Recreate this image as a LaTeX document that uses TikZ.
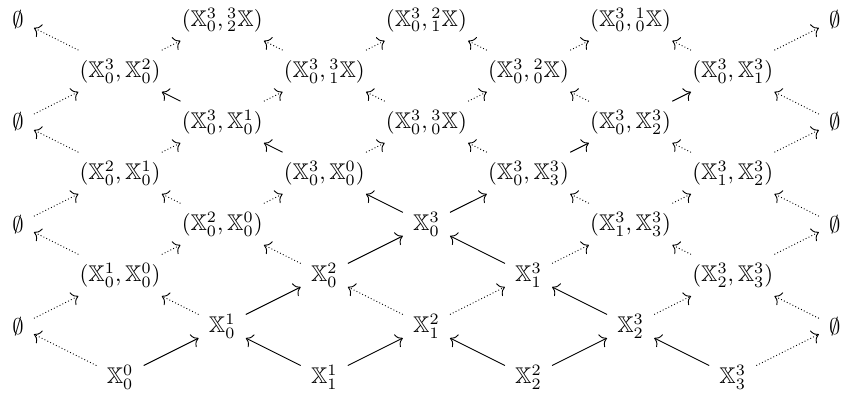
\documentclass[tikz,border=0pt]{standalone}
\usepackage{amssymb}
\usetikzlibrary{arrows.meta}
\newcommand{\X}[2]{\mathbb{X}^{#1}_{#2}}
\newcommand{\pX}[2]{{}^{#1}_{#2}\mathbb{X}}
\tikzset{
  obj/.style={inner sep=3pt, font=\normalsize},
  flow/.style={-{To[length=1mm, width=2.2mm]}, line width=0.4pt, shorten <=1.5pt, shorten >=1.5pt},
  flowd/.style={flow, densely dotted},
}

\begin{document}
\begin{tikzpicture}[x=45pt, y=22.5pt]
  \useasboundingbox (-0.176,0.391) rectangle (8.129,-7.515);

  % left and right ends
  \node[obj] (e0) at (0,0)  {$\emptyset$};
  \node[obj] (e2) at (0,-2) {$\emptyset$};
  \node[obj] (e4) at (0,-4) {$\emptyset$};
  \node[obj] (e6) at (0,-6) {$\emptyset$};
  \node[obj] (f0) at (8,0)  {$\emptyset$};
  \node[obj] (f2) at (8,-2) {$\emptyset$};
  \node[obj] (f4) at (8,-4) {$\emptyset$};
  \node[obj] (f6) at (8,-6) {$\emptyset$};

  % inner grid
  \node[obj] (a1)  at (1,-1) {$(\X30,\X20)$};
  \node[obj] (a3)  at (1,-3) {$(\X20,\X10)$};
  \node[obj] (a5)  at (1,-5) {$(\X10,\X00)$};
  \node[obj] (x00) at (1,-7) {$\X00$};

  \node[obj] (b0)  at (2,0)  {$(\X30,\pX32)$};
  \node[obj] (b2)  at (2,-2) {$(\X30,\X10)$};
  \node[obj] (b4)  at (2,-4) {$(\X20,\X00)$};
  \node[obj] (x01) at (2,-6) {$\X10$};

  \node[obj] (c1)  at (3,-1) {$(\X30,\pX31)$};
  \node[obj] (c3)  at (3,-3) {$(\X30,\X00)$};
  \node[obj] (x02) at (3,-5) {$\X20$};
  \node[obj] (x11) at (3,-7) {$\X11$};

  \node[obj] (d0)  at (4,0)  {$(\X30,\pX21)$};
  \node[obj] (d2)  at (4,-2) {$(\X30,\pX30)$};
  \node[obj] (x03) at (4,-4) {$\X30$};
  \node[obj] (x12) at (4,-6) {$\X21$};

  \node[obj] (g1)  at (5,-1) {$(\X30,\pX20)$};
  \node[obj] (g3)  at (5,-3) {$(\X30,\X33)$};
  \node[obj] (x13) at (5,-5) {$\X31$};
  \node[obj] (x22) at (5,-7) {$\X22$};

  \node[obj] (h0)  at (6,0)  {$(\X30,\pX10)$};
  \node[obj] (h2)  at (6,-2) {$(\X30,\X32)$};
  \node[obj] (h4)  at (6,-4) {$(\X31,\X33)$};
  \node[obj] (x23) at (6,-6) {$\X32$};

  \node[obj] (k1)  at (7,-1) {$(\X30,\X31)$};
  \node[obj] (k3)  at (7,-3) {$(\X31,\X32)$};
  \node[obj] (k5)  at (7,-5) {$(\X32,\X33)$};
  \node[obj] (x33) at (7,-7) {$\X33$};

  % solid arrows
  \draw[flow] (x00) -- (x01);
  \draw[flow] (x11) -- (x01);
  \draw[flow] (x01) -- (x02);
  \draw[flow] (x11) -- (x12);
  \draw[flow] (x02) -- (x03);
  \draw[flow] (x22) -- (x12);
  \draw[flow] (x22) -- (x23);
  \draw[flow] (x23) -- (x13);
  \draw[flow] (x33) -- (x23);
  \draw[flow] (x13) -- (x03);
  \draw[flow] (x03) -- (c3);
  \draw[flow] (x03) -- (g3);
  \draw[flow] (c3) -- (b2);
  \draw[flow] (g3) -- (h2);
  \draw[flow] (b2) -- (a1);
  \draw[flow] (h2) -- (k1);

  % dotted arrows
  \draw[flowd] (a1) -- (e0);
  \draw[flowd] (e2) -- (a1);
  \draw[flowd] (a3) -- (e2);
  \draw[flowd] (e4) -- (a3);
  \draw[flowd] (a5) -- (e4);
  \draw[flowd] (e6) -- (a5);
  \draw[flowd] (x00) -- (e6);

  \draw[flowd] (a1) -- (b0);
  \draw[flowd] (a3) -- (b2);
  \draw[flowd] (b4) -- (a3);
  \draw[flowd] (a5) -- (b4);
  \draw[flowd] (x01) -- (a5);

  \draw[flowd] (c1) -- (b0);
  \draw[flowd] (b2) -- (c1);
  \draw[flowd] (b4) -- (c3);
  \draw[flowd] (x02) -- (b4);

  \draw[flowd] (c1) -- (d0);
  \draw[flowd] (d2) -- (c1);
  \draw[flowd] (c3) -- (d2);
  \draw[flowd] (x12) -- (x02);

  \draw[flowd] (g1) -- (d0);
  \draw[flowd] (d2) -- (g1);
  \draw[flowd] (g3) -- (d2);
  \draw[flowd] (x12) -- (x13);

  \draw[flowd] (g1) -- (h0);
  \draw[flowd] (h2) -- (g1);
  \draw[flowd] (h4) -- (g3);
  \draw[flowd] (x13) -- (h4);

  \draw[flowd] (k1) -- (h0);
  \draw[flowd] (k3) -- (h2);
  \draw[flowd] (h4) -- (k3);
  \draw[flowd] (k5) -- (h4);
  \draw[flowd] (x23) -- (k5);

  \draw[flowd] (k1) -- (f0);
  \draw[flowd] (f2) -- (k1);
  \draw[flowd] (k3) -- (f2);
  \draw[flowd] (f4) -- (k3);
  \draw[flowd] (k5) -- (f4);
  \draw[flowd] (f6) -- (k5);
  \draw[flowd] (x33) -- (f6);
\end{tikzpicture}
\end{document}
